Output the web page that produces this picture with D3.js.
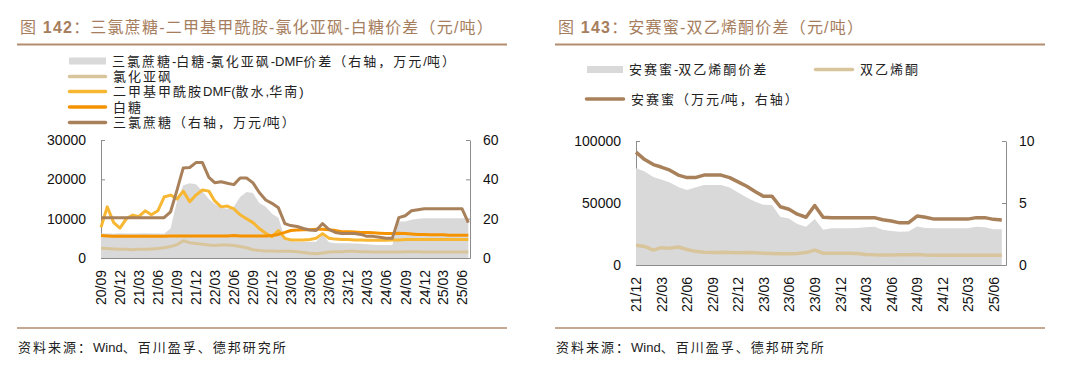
<!DOCTYPE html>
<html>
<head>
<meta charset="utf-8">
<script src="https://cdn.jsdelivr.net/npm/d3@7"></script>
<style>
  body { margin: 0; background: #fff; }
  svg { display: block; }
</style>
</head>
<body>
<div id="chart"></div>
<script>
// ---------- Figure 142 data (monthly, from 2020-09) ----------
var leftStart = "2020-09";
var leftTickLabels = ["20/09", "20/12", "21/03", "21/06", "21/09", "21/12", "22/03", "22/06", "22/09", "22/12",
                      "23/03", "23/06", "23/09", "23/12", "24/03", "24/06", "24/09", "24/12", "25/03", "25/06"];

// 三氯蔗糖-白糖-氯化亚砜-DMF价差 (右轴, 万元/吨)
var sucraloseSpread = [12.5, 12.5, 12.3, 12.6, 12.5, 12.4, 12.5, 12.6, 12.5, 12.4,
                       12.3, 15, 29, 37, 38, 37.5, 34, 30, 27.5, 25.5,
                       25, 26, 31, 33.5, 33, 28, 26, 22.5, 20.5, 10,
                       8.5, 8.3, 8.3, 8.2, 8.2, 12, 8, 7.5, 7.5, 7.5,
                       7.4, 7.3, 7, 6.8, 6.6, 6.6, 6.6, 18.5, 18.5, 19.5,
                       20, 20.2, 20.2, 20.2, 20.2, 20.2, 20.2, 20.2, 20.2];
// 氯化亚砜 (元/吨)
var thionylChloride = [2500, 2400, 2300, 2200, 2200, 2100, 2200, 2200, 2300, 2400,
                       2600, 2900, 3400, 4400, 3900, 3700, 3500, 3300, 3200, 3300,
                       3300, 3200, 2900, 2600, 2100, 1900, 1800, 1800, 1700, 1700,
                       1700, 1600, 1400, 1200, 1100, 1300, 1500, 1600, 1600, 1700,
                       1700, 1600, 1600, 1500, 1500, 1500, 1500, 1500, 1600, 1600,
                       1600, 1500, 1500, 1500, 1500, 1500, 1500, 1500, 1500];
// 二甲基甲酰胺DMF(散水,华南) (元/吨)
var dmf = [7800, 13000, 9000, 7600, 10000, 10900, 10500, 12000, 11000, 12000,
           15500, 16000, 15000, 17000, 14300, 16000, 17300, 17000, 14500, 13000,
           13200, 12500, 11000, 10000, 9000, 7500, 6300, 5400, 7000, 5000,
           4600, 4600, 4600, 4700, 5000, 6200, 5000, 4800, 4700, 4700,
           4600, 4600, 4500, 4500, 4500, 4500, 4600, 4600, 4700, 4700,
           4700, 4700, 4700, 4700, 4700, 4700, 4700, 4700, 4700];
// 白糖 (元/吨)
var whiteSugar = [5700, 5600, 5500, 5500, 5500, 5500, 5500, 5500, 5500, 5500,
                  5500, 5600, 5600, 5600, 5600, 5600, 5600, 5600, 5600, 5600,
                  5600, 5700, 5600, 5600, 5600, 5600, 5600, 5700, 6000, 6500,
                  7000, 7100, 7200, 7200, 7300, 7300, 7200, 7000, 6700, 6700,
                  6600, 6500, 6500, 6400, 6300, 6200, 6200, 6300, 6200, 6100,
                  6000, 6000, 5900, 5900, 5900, 5800, 5800, 5800, 5800];
// 三氯蔗糖 (右轴, 万元/吨)
var sucralose = [20.5, 20.5, 20.5, 20.5, 20.5, 20.5, 20.5, 20.5, 20.5, 20.5,
                 20.5, 23.5, 34.5, 45.8, 46, 48.5, 48.5, 41, 38.3, 38.8,
                 38, 37.3, 40.7, 40.7, 38.2, 33.3, 29.5, 27.8, 25.5, 17.5,
                 16.5, 16, 15, 14.2, 14, 17.5, 14.5, 13, 12.5, 12.5,
                 12.5, 12, 11, 11, 10.5, 10, 10, 20.5, 21.5, 24,
                 24.5, 25, 25, 25, 25, 25, 25, 25, 18];

// ---------- Figure 143 data (monthly, from 2021-12) ----------
var rightStart = "2021-12";
var rightTickLabels = ["21/12", "22/03", "22/06", "22/09", "22/12", "23/03", "23/06", "23/09",
                       "23/12", "24/03", "24/06", "24/09", "24/12", "25/03", "25/06"];

// 安赛蜜-双乙烯酮价差 (元/吨)
var aceSpread = [78000, 75500, 71000, 69000, 66500, 63000, 60500, 62500, 64500, 64500,
                 64500, 62500, 58500, 54500, 51000, 48500, 48400, 39000, 37600, 33000,
                 30900, 37000, 28500, 29600, 29600, 29600, 29800, 30500, 30900, 28500,
                 27500, 26900, 27000, 31000, 29800, 29600, 29600, 29600, 29600, 29600,
                 30900, 30500, 28800, 28800];
// 双乙烯酮 (元/吨)
var diketene = [16000, 15000, 12000, 14000, 13500, 14500, 12500, 11000, 10200, 10000,
                10300, 10000, 9800, 10000, 9800, 9500, 9200, 9000, 9000, 9200,
                10000, 12000, 9500, 9400, 9400, 9400, 9300, 8500, 8200, 8100,
                8100, 8200, 8300, 8500, 8000, 7800, 7800, 7800, 7800, 7800,
                7800, 7800, 7800, 7800];
// 安赛蜜 (万元/吨, 右轴)
var acesulfame = [9.1, 8.5, 8.1, 7.9, 7.65, 7.25, 7.05, 7.05, 7.25, 7.25,
                  7.25, 7.05, 6.7, 6.35, 5.9, 5.55, 5.55, 4.7, 4.5, 4.1,
                  3.85, 4.8, 3.85, 3.82, 3.82, 3.82, 3.82, 3.82, 3.82, 3.65,
                  3.55, 3.4, 3.4, 3.95, 3.85, 3.7, 3.7, 3.7, 3.7, 3.7,
                  3.82, 3.82, 3.68, 3.63];

// colours
var cGray = "#d9d9d9", cBeige = "#d9c59c", cYellow = "#f7b733", cOrange = "#f59200", cBrown = "#a8805a";
var cTitle = "#a67e5e", cRule = "#b38d6f", cAxis = "#8c8c8c";
var latinCjk = "'Liberation Sans', Arial, 'Noto Sans CJK SC', sans-serif";

var svg = d3.select("#chart").append("svg")
    .attr("width", 1080)
    .attr("height", 372);

var parseMonth = d3.timeParse("%Y-%m");
var parseTick = d3.timeParse("%y/%m");

function monthDates(start, n) {
    var s = parseMonth(start);
    return d3.range(n).map(function(i) { return d3.timeMonth.offset(s, i); });
}

// write text as runs so only the Chinese parts get the wide spacing
function spacedText(sel, str, spacing) {
    var runs = str.match(/[\x20-\x7e]+|[^\x20-\x7e]+/g);
    runs.forEach(function(r) {
        var ascii = /^[\x20-\x7e]+$/.test(r);
        sel.append("tspan")
            .style("letter-spacing", ascii ? "0px" : spacing)
            .text(r);
    });
}

// title + rule + footer for one panel
function drawFrame(x0, x1, num, titleText) {
    var t = svg.append("text")
        .attr("x", x0 + 3)
        .attr("y", 33)
        .attr("fill", cTitle)
        .style("font-family", latinCjk)
        .style("font-size", "16px")
        .style("letter-spacing", "1.2px");
    t.append("tspan").text("图 ");
    t.append("tspan").text(num).style("font-weight", "bold");
    t.append("tspan").text("：" + titleText);

    svg.append("line")
        .attr("x1", x0).attr("x2", x1)
        .attr("y1", 44.5).attr("y2", 44.5)
        .attr("stroke", cRule).attr("stroke-width", 2);

    svg.append("line")
        .attr("x1", x0).attr("x2", x1)
        .attr("y1", 328).attr("y2", 328)
        .attr("stroke", cRule).attr("stroke-width", 1.5);

    var f = svg.append("text")
        .attr("x", x0 + 1)
        .attr("y", 352)
        .attr("fill", "#222")
        .style("font-family", latinCjk)
        .style("font-size", "13px");
    spacedText(f, "资料来源：Wind、百川盈孚、德邦研究所", "2px");
}

// legend item: kind is "rect" or "line"
function legendItem(kind, color, x, y, w, label) {
    if (kind === "rect") {
        svg.append("rect")
            .attr("x", x).attr("y", y - 3.5)
            .attr("width", w).attr("height", 7)
            .attr("fill", color);
    } else {
        svg.append("line")
            .attr("x1", x + 1.5).attr("x2", x + w - 1.5)
            .attr("y1", y).attr("y2", y)
            .attr("stroke", color).attr("stroke-width", 3.5)
            .attr("stroke-linecap", "round");
    }
    var t = svg.append("text")
        .attr("x", x + w + 6)
        .attr("y", y)
        .attr("dy", "0.36em")
        .attr("fill", "#222")
        .style("font-family", latinCjk)
        .style("font-size", "13px");
    spacedText(t, label, "2px");
}

function styleAxis(g) {
    g.select(".domain").attr("stroke", cAxis);
    g.selectAll(".tick line").attr("stroke", cAxis);
    g.selectAll(".tick text")
        .attr("fill", "#111")
        .style("font-family", "'Liberation Sans', Arial, sans-serif")
        .style("font-size", "14px");
}

// axes for one panel, returns scales
function drawAxes(p) {
    var x = d3.scaleTime().domain(p.xDomain).range([p.left, p.right]);
    var yL = d3.scaleLinear().domain([0, p.leftMax]).range([p.bottom, p.top]);
    var yR = d3.scaleLinear().domain([0, p.rightMax]).range([p.bottom, p.top]);

    var gx = svg.append("g")
        .attr("transform", "translate(0," + p.bottom + ")")
        .call(d3.axisBottom(x)
            .tickValues(p.tickLabels.map(function(s) { return parseTick(s); }))
            .tickFormat(d3.timeFormat("%y/%m"))
            .tickSize(-4).tickSizeOuter(0));
    styleAxis(gx);
    gx.selectAll(".tick text")
        .attr("transform", "rotate(-90)")
        .attr("x", -12)
        .attr("y", 0)
        .attr("dy", "0.35em")
        .style("text-anchor", "end");

    var gl = svg.append("g")
        .attr("transform", "translate(" + p.left + ",0)")
        .call(d3.axisLeft(yL).tickValues(p.leftTicks).tickFormat(d3.format("d"))
            .tickSize(-4).tickSizeOuter(0).tickPadding(15));
    styleAxis(gl);

    var gr = svg.append("g")
        .attr("transform", "translate(" + p.right + ",0)")
        .call(d3.axisRight(yR).tickValues(p.rightTicks).tickFormat(d3.format("d"))
            .tickSize(-4).tickSizeOuter(0).tickPadding(13));
    styleAxis(gr);

    return { x: x, yL: yL, yR: yR };
}

function drawArea(dates, values, x, y, color) {
    var area = d3.area()
        .x(function(d, i) { return x(dates[i]); })
        .y0(y(0))
        .y1(function(d) { return y(d); });
    svg.append("path").datum(values)
        .attr("d", area)
        .attr("fill", color);
}

function drawLine(dates, values, x, y, color, width) {
    var line = d3.line()
        .x(function(d, i) { return x(dates[i]); })
        .y(function(d) { return y(d); });
    svg.append("path").datum(values)
        .attr("d", line)
        .attr("fill", "none")
        .attr("stroke", color)
        .attr("stroke-width", width)
        .attr("stroke-linejoin", "round");
}

// ================= Figure 142 =================
drawFrame(17, 507, "142", "三氯蔗糖-二甲基甲酰胺-氯化亚砜-白糖价差（元/吨）");

legendItem("rect", cGray, 69, 61, 37, "三氯蔗糖-白糖-氯化亚砜-DMF价差（右轴，万元/吨）");
legendItem("line", cBeige, 68, 76.5, 39, "氯化亚砜");
legendItem("line", cYellow, 68, 91.5, 39, "二甲基甲酰胺DMF(散水,华南)");
legendItem("line", cOrange, 68, 107, 39, "白糖");
legendItem("line", cBrown, 68, 122.5, 39, "三氯蔗糖（右轴，万元/吨）");

var leftDates = monthDates(leftStart, sucralose.length);
var s1 = drawAxes({
    left: 101, right: 470, top: 140, bottom: 258,
    xDomain: [parseMonth("2020-09"), new Date(2025, 6, 9)],
    tickLabels: leftTickLabels,
    leftMax: 30000, leftTicks: [0, 10000, 20000, 30000],
    rightMax: 60, rightTicks: [0, 20, 40, 60]
});

drawArea(leftDates, sucraloseSpread, s1.x, s1.yR, cGray);
drawLine(leftDates, thionylChloride, s1.x, s1.yL, cBeige, 3);
drawLine(leftDates, dmf, s1.x, s1.yL, cYellow, 3);
drawLine(leftDates, whiteSugar, s1.x, s1.yL, cOrange, 3);
drawLine(leftDates, sucralose, s1.x, s1.yR, cBrown, 3);

// ================= Figure 143 =================
drawFrame(555, 1045, "143", "安赛蜜-双乙烯酮价差（元/吨）");

legendItem("rect", cGray, 587, 69.5, 36, "安赛蜜-双乙烯酮价差");
legendItem("line", cBeige, 814, 69.5, 40, "双乙烯酮");
legendItem("line", cBrown, 585, 99, 40, "安赛蜜（万元/吨，右轴）");

var rightDates = monthDates(rightStart, acesulfame.length);
var s2 = drawAxes({
    left: 636, right: 1006, top: 141, bottom: 265,
    xDomain: [parseMonth("2021-12"), new Date(2025, 6, 16)],
    tickLabels: rightTickLabels,
    leftMax: 100000, leftTicks: [0, 50000, 100000],
    rightMax: 10, rightTicks: [0, 5, 10]
});

drawArea(rightDates, aceSpread, s2.x, s2.yL, cGray);
drawLine(rightDates, diketene, s2.x, s2.yL, cBeige, 3.5);
drawLine(rightDates, acesulfame, s2.x, s2.yR, cBrown, 3.5);
</script>
</body>
</html>
